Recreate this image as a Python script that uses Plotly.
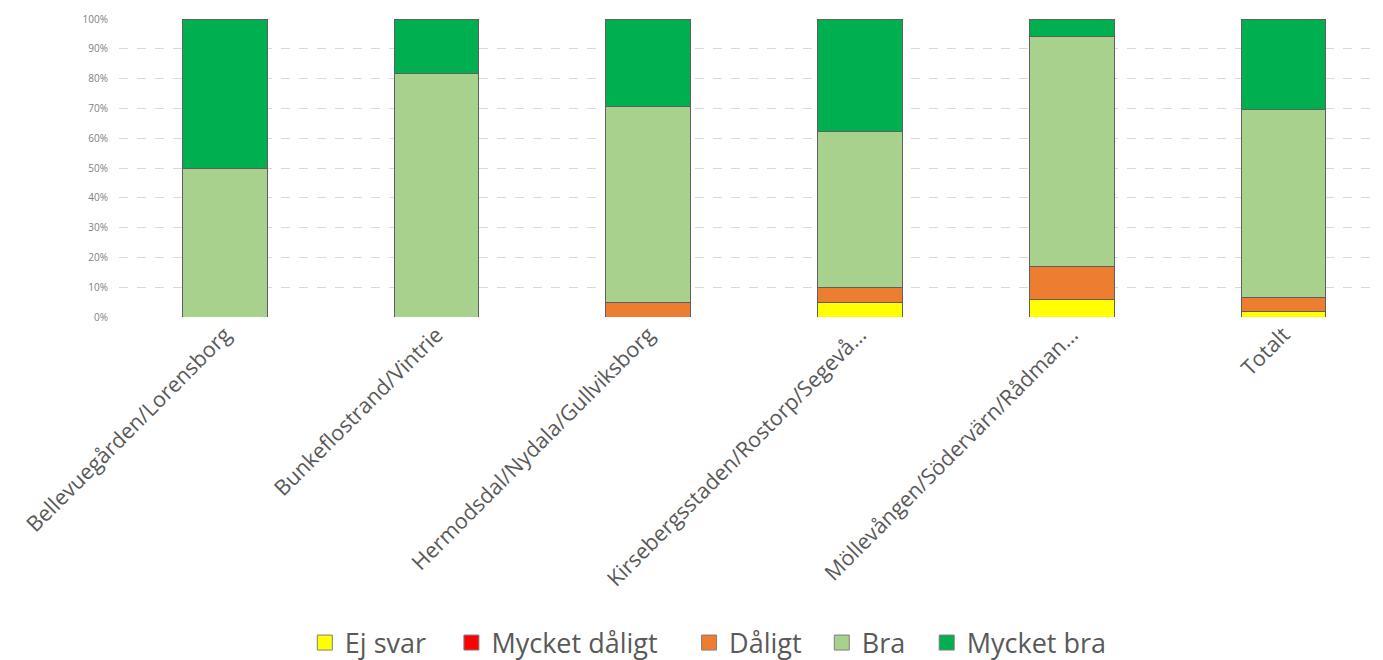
import plotly.graph_objects as go

categories = ["Bellevuegården/Lorensborg", "Bunkeflostrand/Vintrie", "Hermodsdal/Nydala/Gullviksborg",
              "Kirsebergsstaden/Rostorp/Segevå…", "Möllevången/Södervärn/Rådman…", "Totalt"]
series_names = ["Ej svar", "Mycket dåligt", "Dåligt", "Bra", "Mycket bra"]
ej_svar = [0, 0, 0, 4.8, 6.0, 1.8]
mycket_daligt = [0, 0, 0, 0, 0, 0]
daligt = [0, 0, 4.8, 5.0, 10.8, 4.6]
bra = [50.0, 81.8, 65.8, 52.3, 77.2, 63.4]
mycket_bra = [50.0, 18.2, 29.4, 37.9, 6.0, 30.2]
colors = ["#FFFF00", "#FF0000", "#ED7D31", "#A9D18E", "#00B050"]
legend_x = [0.147, 0.263, 0.451, 0.556, 0.639]

fig = go.Figure()
legend_ids = ["legend", "legend2", "legend3", "legend4", "legend5"]
for name, vals, col in zip(series_names, [ej_svar, mycket_daligt, daligt, bra, mycket_bra], colors):
    fig.add_trace(go.Bar(x=categories, y=vals, name=name, showlegend=False,
                         marker=dict(color=col, line=dict(color="#5f5f5f", width=1))))
# legend-only entries (square swatches like the original)
for name, col, lid in zip(series_names, colors, legend_ids):
    fig.add_trace(go.Scatter(x=[None], y=[None], mode="markers", name=name, legend=lid,
                             showlegend=True,
                             marker=dict(symbol="square", size=15, color=col,
                                         line=dict(color="#7f7f7f", width=1))))

legend_common = dict(orientation="h", xanchor="left", y=-1.094, yanchor="middle",
                     font=dict(size=27, color="#595959"), itemwidth=30, visible=True,
                     bgcolor="rgba(0,0,0,0)", borderwidth=0)
legend_layout = {lid: dict(x=lx, **legend_common) for lid, lx in zip(legend_ids, legend_x)}

fig.update_layout(
    barmode="stack", bargap=0.6, showlegend=True,
    width=1375, height=652,
    margin=dict(l=111, r=0, t=11, b=343, autoexpand=False),
    plot_bgcolor="white", paper_bgcolor="white",
    font=dict(family="Open Sans", color="#595959"),
    xaxis=dict(tickangle=-45, tickfont=dict(size=21.5, color="#595959"), showgrid=False,
               range=[-0.5, 5.47], ticks="", automargin=False),
    yaxis=dict(range=[0, 100], dtick=10, ticksuffix="%", tickfont=dict(size=10, color="#808080"),
               ticklabelstandoff=10,
               showgrid=True, gridcolor="#d9d9d9", griddash="dash", gridwidth=1, zeroline=False,
               automargin=False),
    **legend_layout,
)
fig.write_html("out.html")
